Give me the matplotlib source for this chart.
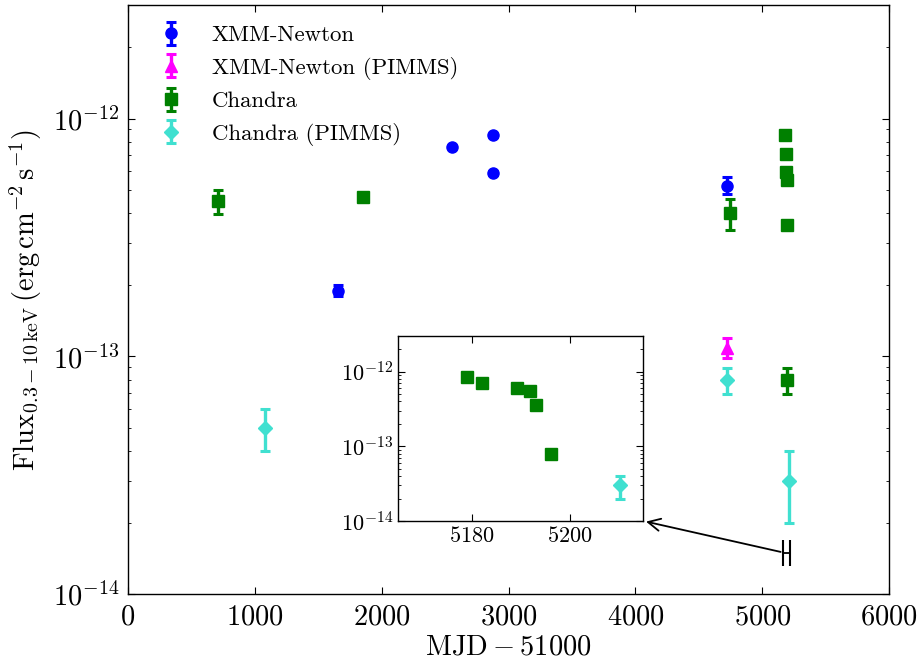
import matplotlib
matplotlib.use('Agg')
import matplotlib.pyplot as plt

matplotlib.rcParams.update({
    'font.family': 'serif',
    'font.serif': ['cmr10'],
    'mathtext.fontset': 'cm',
    'axes.formatter.use_mathtext': True,
    'axes.linewidth': 1.0,
    'xtick.direction': 'in',
    'ytick.direction': 'in',
    'xtick.top': True,
    'ytick.right': True,
    'xtick.major.size': 5,
    'ytick.major.size': 5,
    'xtick.minor.size': 2.5,
    'ytick.minor.size': 2.5,
})

# MJD - 51000 and 0.3-10 keV flux (erg cm^-2 s^-1)
xmm_t = [1654, 2553, 2878, 2878, 4719]
xmm_f = [1.89e-13, 7.6e-13, 8.5e-13, 5.91e-13, 5.19e-13]
xmm_lo = [0.1e-13, 0.1e-13, 0.1e-13, 0.1e-13, 0.38e-13]
xmm_hi = [0.1e-13, 0.1e-13, 0.1e-13, 0.1e-13, 0.47e-13]

xmmp_t = [4724]
xmmp_f = [1.09e-13]
xmmp_lo = [0.10e-13]
xmmp_hi = [0.11e-13]

cha_t = [714, 1856, 4745, 5179.1, 5182.0, 5189.2, 5191.9, 5193.1, 5196.1]
cha_f = [4.49e-13, 4.69e-13, 4.01e-13, 8.55e-13, 7.1e-13, 5.95e-13, 5.5e-13, 3.58e-13, 7.98e-14]
cha_lo = [0.51e-13, 0.1e-13, 0.60e-13, 0.1e-13, 0.1e-13, 0.1e-13, 0.1e-13, 0.1e-13, 1.0e-14]
cha_hi = [0.54e-13, 0.1e-13, 0.59e-13, 0.1e-13, 0.1e-13, 0.1e-13, 0.1e-13, 0.1e-13, 1.0e-14]

chap_t = [1082, 4724, 5210.2]
chap_f = [5.0e-14, 7.98e-14, 3.0e-14]
chap_lo = [1.0e-14, 1.0e-14, 1.0e-14]
chap_hi = [1.0e-14, 1.0e-14, 1.0e-14]

zoom_range = (5165, 5215)
zoom_flux = 1.5e-14

series = [
    ('XMM-Newton', xmm_t, xmm_f, xmm_lo, xmm_hi, 'o', '#0000ff', 8),
    ('XMM-Newton (PIMMS)', xmmp_t, xmmp_f, xmmp_lo, xmmp_hi, '^', '#ff00ff', 8),
    ('Chandra', cha_t, cha_f, cha_lo, cha_hi, 's', '#008000', 8),
    ('Chandra (PIMMS)', chap_t, chap_f, chap_lo, chap_hi, 'D', '#40e0d0', 7),
]


def draw(ax, s):
    label, t, f, lo, hi, m, c, ms = s
    ax.errorbar(t, f, yerr=[lo, hi], fmt=m, color=c, mec=c, ms=ms,
                elinewidth=2.4, capsize=3.6, capthick=2.2, label=label)


fig = plt.figure(figsize=(9.22, 6.70), dpi=100)
ax = fig.add_axes([0.1385, 0.1128, 0.8261, 0.8797])
for s in series:
    draw(ax, s)
ax.set_yscale('log')
ax.set_xlim(0, 6000)
ax.set_ylim(1e-14, 3e-12)
ax.tick_params(labelsize=20.5)
ax.tick_params(axis='x', which='major', pad=7)
ax.tick_params(axis='y', which='major', pad=6)
ax.set_xlabel(r'$\mathrm{MJD} - 51000$', fontsize=20.5, labelpad=3)
ax.set_ylabel(r'$\mathrm{Flux}_{0.3-10\,\mathrm{keV}}\,(\mathrm{erg\,cm^{-2}\,s^{-1}})$',
              fontsize=20.5, labelpad=6)
ax.legend(loc='upper left', frameon=False, numpoints=1, fontsize=16.4)

# bracket marking the zoomed range
zc = (zoom_range[0] + zoom_range[1]) / 2
ax.errorbar([zc], [zoom_flux], xerr=[(zoom_range[1] - zoom_range[0]) / 2],
            fmt='none', ecolor='k', elinewidth=1.3, capsize=9.5, capthick=1.5)

ins = fig.add_axes([0.432, 0.2224, 0.2657, 0.2761])
for s in series[2:]:
    draw(ins, s)
ins.set_yscale('log')
ins.set_xlim(*zoom_range)
ins.set_ylim(1e-14, 3e-12)
ins.set_xticks([5180, 5200])
ins.tick_params(labelsize=16)

ax.annotate('', xy=(1, 0), xycoords=ins.transAxes,
            xytext=(zoom_range[0], zoom_flux), textcoords='data',
            arrowprops=dict(arrowstyle='->', color='k', lw=1.3,
                            mutation_scale=22))

fig.savefig('out.png', dpi=100)
